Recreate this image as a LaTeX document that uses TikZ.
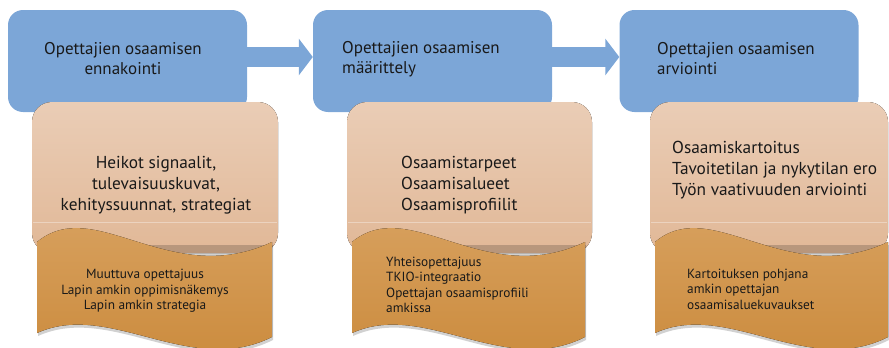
\documentclass[tikz,border=0pt]{standalone}
\usepackage{fontspec}
\setmainfont{PT Sans}
\usepackage{xcolor}
\usetikzlibrary{arrows.meta}

\definecolor{phaseblue}{RGB}{124,166,215}
\definecolor{cardtop}{RGB}{234,205,182}
\definecolor{cardbot}{RGB}{225,184,151}
\definecolor{wavetop}{RGB}{217,163,98}
\definecolor{wavebot}{RGB}{202,137,58}
\definecolor{ink}{RGB}{25,25,25}

\begin{document}
\begin{tikzpicture}[x=1pt,y=-1pt,
            phase/.style={rectangle,rounded corners=15pt,fill=phaseblue,minimum width=239pt,minimum height=102pt,inner sep=0pt},
            phasetext/.style={font=\fontsize{17}{20}\selectfont,text=ink,inner sep=0pt},
            flow/.style={phaseblue,line width=20pt,-{Triangle[length=14pt,width=36pt]}},
            card/.style={rounded corners=20pt,top color=cardtop,bottom color=cardbot},
            wave/.style={top color=wavetop,bottom color=wavebot},
            waveshadow/.style={fill=black,opacity=0.18},
            cardtext/.style={font=\fontsize{17.3}{21}\selectfont,text=ink,inner sep=0pt},
            wavetext/.style={font=\fontsize{13.3}{15.5}\selectfont,text=ink,inner sep=0pt}]
            \useasboundingbox (0,0) rectangle (889,348);
            % vaiheet
            \node[phase] (b1) at (127.5,61) {};
            \node[phase] (b2) at (432.5,61) {};
            \node[phase] (b3) at (739,61) {};
            \node[phasetext,align=center] (t1) at (123,59) {Opettajien osaamisen\\ennakointi};
            \node[phasetext,align=left,anchor=west] (t2) at (342,59) {Opettajien osaamisen\\määrittely};
            \node[phasetext,align=left,anchor=west] (t3) at (657,59) {Opettajien osaamisen\\arviointi};
            \draw[flow] ([yshift=4pt]b1.east) -- ([yshift=4pt]b2.west);
            \draw[flow] ([yshift=4pt]b2.east) -- ([yshift=4pt]b3.west);
            % kortit
            \fill[card] (32,102) rectangle (278,253);
            \fill[card] (347,102) rectangle (592,253);
            \fill[card] (650,102) rectangle (888,253);
            \draw[white,opacity=0.35] (33,222) -- (277,222);
            \draw[white,opacity=0.35] (348,222) -- (591,222);
            \draw[white,opacity=0.35] (651,222) -- (887,222);
            % aaltolaatat
            \fill[waveshadow] (38,245) -- (273,245) -- (273,340) .. controls (191,381) and (111,303) .. (38,336) -- cycle;
            \fill[wave] (37,242) .. controls (95,194) and (170,290) .. (272,242) -- (272,337) .. controls (190,378) and (110,300) .. (37,333) -- cycle;
            \fill[waveshadow] (353,245) -- (586,245) -- (586,340) .. controls (505,381) and (426,303) .. (353,336) -- cycle;
            \fill[wave] (352,242) .. controls (410,194) and (484,290) .. (585,242) -- (585,337) .. controls (504,378) and (425,300) .. (352,333) -- cycle;
            \fill[waveshadow] (656,245) -- (889,245) -- (889,340) .. controls (808,381) and (729,303) .. (656,336) -- cycle;
            \fill[wave] (655,242) .. controls (712,194) and (786,290) .. (888,242) -- (888,337) .. controls (807,378) and (728,300) .. (655,333) -- cycle;
            % tekstit
            \node[cardtext,align=center] (h1) at (156,185) {Heikot signaalit,\\tulevaisuuskuvat,\\kehityssuunnat, strategiat};
            \node[cardtext,align=left,anchor=west] (h2) at (401,185) {Osaamistarpeet\\Osaamisalueet\\Osaamisprofiilit};
            \node[cardtext,align=left,anchor=west] (h3) at (672,170) {Osaamiskartoitus\\Tavoitetilan ja nykytilan ero\\Työn vaativuuden arviointi};
            \node[wavetext,align=center] (m1) at (145,291) {Muuttuva opettajuus\\Lapin amkin oppimisnäkemys\\Lapin amkin strategia};
            \node[wavetext,align=left,anchor=west] (m2) at (386,285) {Yhteisopettajuus\\TKIO-integraatio\\Opettajan osaamisprofiili\\amkissa};
            \node[wavetext,align=left,anchor=west] (m3) at (687,289) {Kartoituksen pohjana\\amkin opettajan\\osaamisaluekuvaukset};
        \end{tikzpicture}
\end{document}
